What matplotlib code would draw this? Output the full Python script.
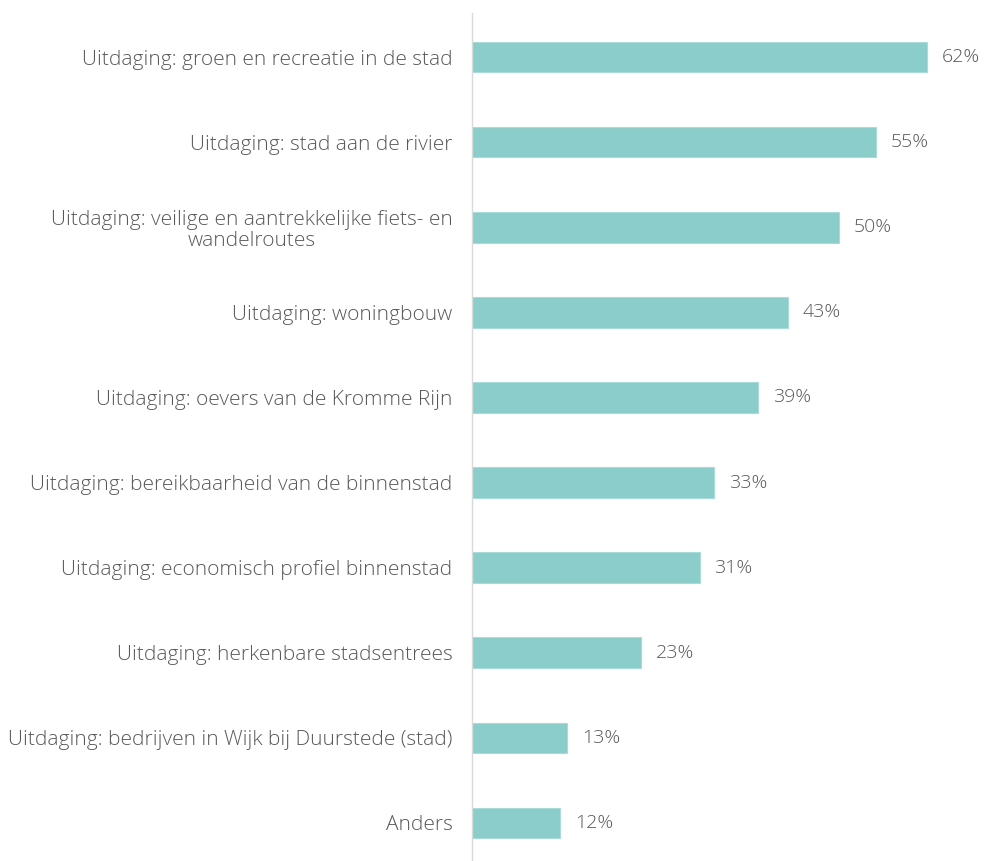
import matplotlib
matplotlib.use("Agg")
import matplotlib.pyplot as plt

categorieen = [
    "Uitdaging: groen en recreatie in de stad",
    "Uitdaging: stad aan de rivier",
    "Uitdaging: veilige en aantrekkelijke fiets- en\nwandelroutes",
    "Uitdaging: woningbouw",
    "Uitdaging: oevers van de Kromme Rijn",
    "Uitdaging: bereikbaarheid van de binnenstad",
    "Uitdaging: economisch profiel binnenstad",
    "Uitdaging: herkenbare stadsentrees",
    "Uitdaging: bedrijven in Wijk bij Duurstede (stad)",
    "Anders",
]
percentages = [62, 55, 50, 43, 39, 33, 31, 23, 13, 12]

BAR = "#8BCDCA"
TEKST = "#585858"

plt.rcParams["font.family"] = ["Open Sans", "DejaVu Sans"]
plt.rcParams["font.weight"] = 300

fig = plt.figure(figsize=(9.84, 8.61), dpi=100)
ax = fig.add_axes([472 / 984, 0, 1 - 472 / 984, 1 - 13 / 861])

pos = list(range(len(categorieen)))
ax.barh(pos, percentages, height=0.36, color=BAR, edgecolor="#A9DCD9", linewidth=0.8)

# percentage naast elke balk
for y, p in zip(pos, percentages):
    ax.text(p + 2.0, y, f"{p}%", va="center", ha="left", fontsize=14, color=TEKST)

ax.set_xlim(0, 69.75)
ax.set_ylim(9.447, -0.517)
ax.set_yticks(pos)
ax.set_yticklabels(categorieen, fontsize=15, color=TEKST)
for lbl in ax.get_yticklabels():
    lbl.set_multialignment("center")
    lbl.set_linespacing(1.08)
ax.tick_params(axis="y", length=0, pad=14)
ax.set_xticks([])

for s in ["top", "right", "bottom"]:
    ax.spines[s].set_visible(False)
ax.spines["left"].set_color("#D9D9D9")
ax.spines["left"].set_linewidth(1.0)

fig.savefig("out.png", dpi=100)
